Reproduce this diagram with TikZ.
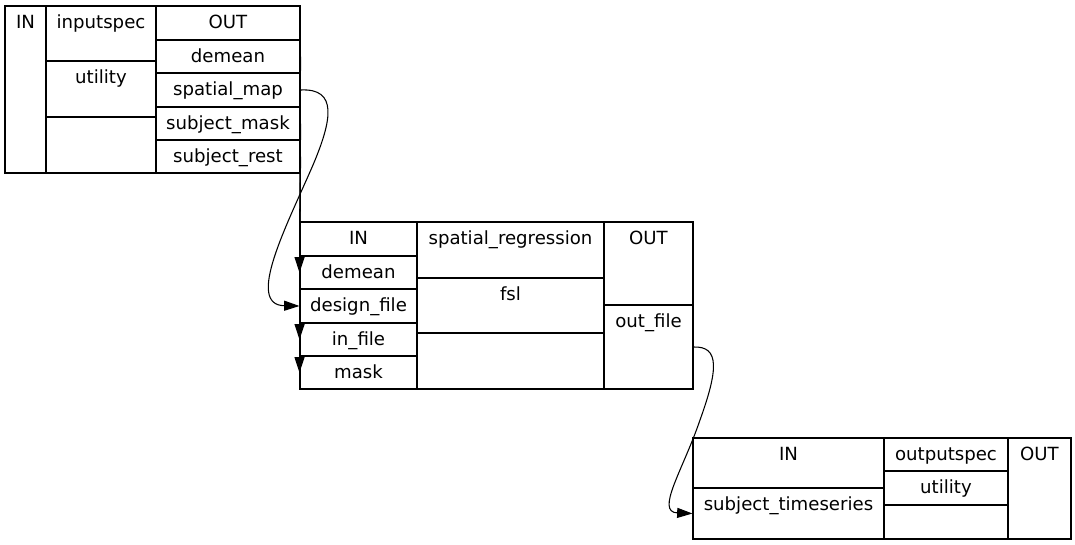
\documentclass[tikz,border=0pt]{standalone}
\usepackage{fontspec}
\setmainfont{DejaVu Sans}
\usetikzlibrary{fit,arrows.meta,calc}
\tikzset{
 cell/.style={draw, line width=0.8pt, inner sep=0pt, rectangle},
 txt/.style={anchor=base, inner sep=0pt, font=\fontsize{13.6}{16}\selectfont},
 edge/.style={draw, line width=0.8pt, -{Triangle[length=11.5pt,width=7.5pt]}},
}
\newcommand\cellbox[6]{\node[cell, fit={(#2,#3) (#4,#5)}] (#1) {};
  \node[txt] (#1-t) at ($(#1.north)+(0,23)$) {#6};}
\newcommand\emptycell[5]{\node[cell, fit={(#2,#3) (#4,#5)}] (#1) {};}
\begin{document}
\begin{tikzpicture}[x=0.75pt,y=-0.75pt]
\useasboundingbox (0,0) rectangle (1075,544);
% node 1: inputspec
\cellbox{a-in}{5}{6}{46}{173}{IN}
\cellbox{a-name}{46}{6}{156}{61}{inputspec}
\cellbox{a-mod}{46}{61}{156}{117}{utility}
\emptycell{a-empty}{46}{117}{156}{173}
\cellbox{a-out}{156}{6}{300}{40}{OUT}
\cellbox{a-demean}{156}{40}{300}{73}{demean}
\cellbox{a-smap}{156}{73}{300}{107}{spatial\_map}
\cellbox{a-smask}{156}{107}{300}{140}{subject\_mask}
\cellbox{a-srest}{156}{140}{300}{173}{subject\_rest}
% node 2: spatial_regression
\cellbox{b-in}{300}{222}{417}{256}{IN}
\cellbox{b-demean}{300}{256}{417}{289}{demean}
\cellbox{b-design}{300}{289}{417}{323}{design\_file}
\cellbox{b-infile}{300}{323}{417}{356}{in\_file}
\cellbox{b-mask}{300}{356}{417}{389}{mask}
\cellbox{b-name}{417}{222}{604}{278}{spatial\_regression}
\cellbox{b-mod}{417}{278}{604}{333}{fsl}
\emptycell{b-empty}{417}{333}{604}{389}
\cellbox{b-out}{604}{222}{693}{305}{OUT}
\cellbox{b-outfile}{604}{305}{693}{389}{out\_file}
% node 3: outputspec
\cellbox{c-in}{693}{438}{884}{488}{IN}
\cellbox{c-st}{693}{488}{884}{539}{subject\_timeseries}
\cellbox{c-name}{884}{438}{1008}{471}{outputspec}
\cellbox{c-mod}{884}{471}{1008}{505}{utility}
\emptycell{c-empty}{884}{505}{1008}{539}
\cellbox{c-out}{1008}{438}{1071}{539}{OUT}
% edges
\draw[edge] (a-demean.east) -- (b-demean.west);
\draw[edge] (a-srest.east) -- (b-infile.west);
\draw[edge] (a-smask.east) -- (b-mask.west);
\draw[edge] (a-smap.east) .. controls (338,88) and (332,120) .. (313,165)
  .. controls (287,225) and (245,305) .. (b-design.west);
\draw[edge] (b-outfile.east) .. controls (720,346) and (718,370) .. (700,420)
  .. controls (683,470) and (655,512) .. (c-st.west);
\end{tikzpicture}
\end{document}
